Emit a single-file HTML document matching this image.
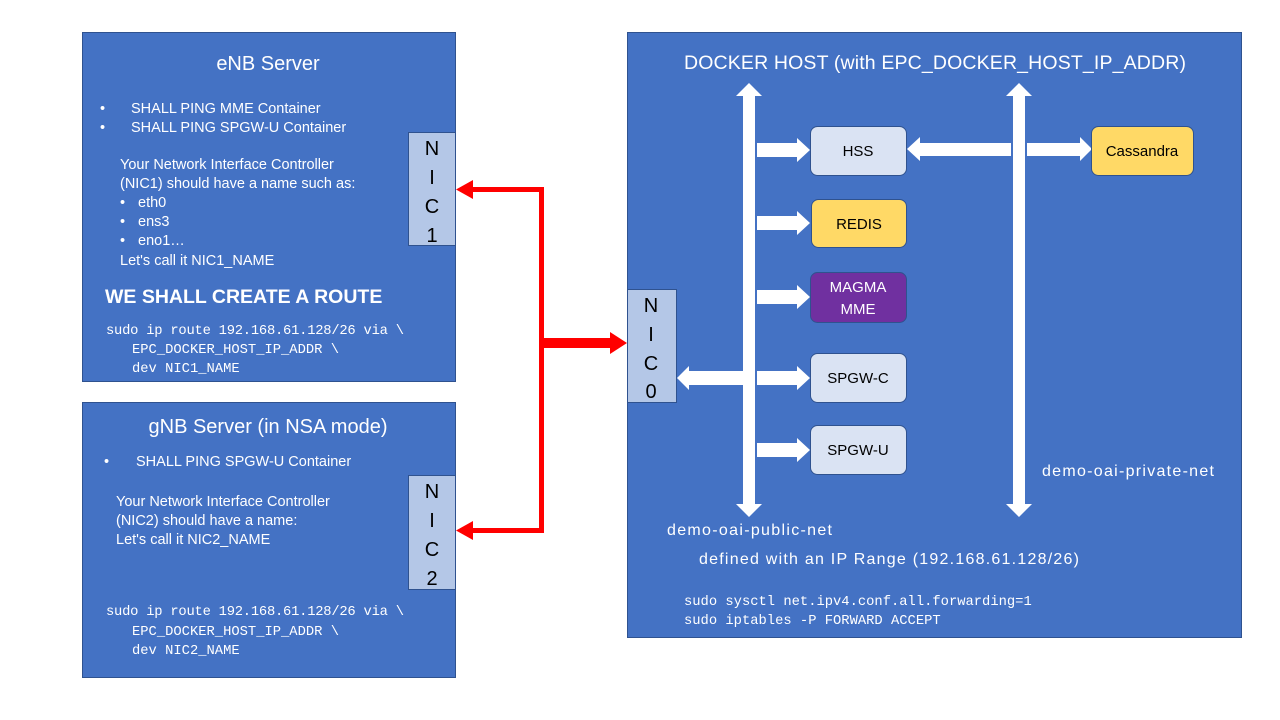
<!DOCTYPE html>
<html><head><meta charset="utf-8"><style>
html,body{margin:0;padding:0;background:#fff;}
svg{display:block;}
.t{font-family:"Liberation Sans",Arial,sans-serif;fill:#fff;}
.m{font-family:"Liberation Mono",monospace;fill:#fff;font-size:13.8px;}
.k{font-family:"Liberation Sans",Arial,sans-serif;fill:#000;}
</style></head><body>
<svg width="1280" height="720" viewBox="0 0 1280 720" xmlns="http://www.w3.org/2000/svg">
<defs>
<g id="ra"><polygon points="0,-7 40,-7 40,-12 53,0 40,12 40,7 0,7" fill="#fff"/></g>
</defs>
<!-- eNB -->
<rect x="82.5" y="32.5" width="373" height="349" fill="#4472C4" stroke="#2F528F"/>
<text class="t" x="268" y="70" font-size="20" text-anchor="middle">eNB Server</text>
<text class="t" x="100" y="113" font-size="14.5">•</text>
<text class="t" x="131" y="113" font-size="14.5">SHALL PING MME Container</text>
<text class="t" x="100" y="132" font-size="14.5">•</text>
<text class="t" x="131" y="132" font-size="14.5">SHALL PING SPGW-U Container</text>
<text class="t" x="120" y="169" font-size="14.5">Your Network Interface Controller</text>
<text class="t" x="120" y="188" font-size="14.5">(NIC1) should have a name such as:</text>
<text class="t" x="120" y="207" font-size="14.5">•</text><text class="t" x="138" y="207" font-size="14.5">eth0</text>
<text class="t" x="120" y="226" font-size="14.5">•</text><text class="t" x="138" y="226" font-size="14.5">ens3</text>
<text class="t" x="120" y="245" font-size="14.5">•</text><text class="t" x="138" y="245" font-size="14.5">eno1…</text>
<text class="t" x="120" y="265" font-size="14.5">Let's call it NIC1_NAME</text>
<text class="t" x="105" y="303" font-size="19.5" font-weight="bold">WE SHALL CREATE A ROUTE</text>
<text class="m" x="106" y="334" textLength="298">sudo ip route 192.168.61.128/26 via \</text>
<text class="m" x="132" y="353">EPC_DOCKER_HOST_IP_ADDR \</text>
<text class="m" x="132" y="372">dev NIC1_NAME</text>
<rect x="408.5" y="132.5" width="47" height="113" fill="#B4C7E7" stroke="#2F528F"/>
<text class="k" x="432" y="155" font-size="20" text-anchor="middle">N</text>
<text class="k" x="432" y="184" font-size="20" text-anchor="middle">I</text>
<text class="k" x="432" y="213" font-size="20" text-anchor="middle">C</text>
<text class="k" x="432" y="242" font-size="20" text-anchor="middle">1</text>
<!-- gNB -->
<rect x="82.5" y="402.5" width="373" height="275" fill="#4472C4" stroke="#2F528F"/>
<text class="t" x="268" y="433" font-size="20" text-anchor="middle">gNB Server (in NSA mode)</text>
<text class="t" x="104" y="466" font-size="14.5">•</text>
<text class="t" x="136" y="466" font-size="14.5">SHALL PING SPGW-U Container</text>
<text class="t" x="116" y="506" font-size="14.5">Your Network Interface Controller</text>
<text class="t" x="116" y="525" font-size="14.5">(NIC2) should have a name:</text>
<text class="t" x="116" y="544" font-size="14.5">Let's call it NIC2_NAME</text>
<text class="m" x="106" y="615" textLength="298">sudo ip route 192.168.61.128/26 via \</text>
<text class="m" x="132" y="635">EPC_DOCKER_HOST_IP_ADDR \</text>
<text class="m" x="132" y="654">dev NIC2_NAME</text>
<rect x="408.5" y="475.5" width="47" height="114" fill="#B4C7E7" stroke="#2F528F"/>
<text class="k" x="432" y="498" font-size="20" text-anchor="middle">N</text>
<text class="k" x="432" y="527" font-size="20" text-anchor="middle">I</text>
<text class="k" x="432" y="556" font-size="20" text-anchor="middle">C</text>
<text class="k" x="432" y="585" font-size="20" text-anchor="middle">2</text>
<!-- red connectors -->
<rect x="539" y="187" width="5" height="346" fill="#f00"/>
<rect x="470" y="187" width="74" height="5" fill="#f00"/>
<polygon points="456,189.5 473,180 473,199" fill="#f00"/>
<rect x="470" y="528" width="74" height="5" fill="#f00"/>
<polygon points="456,530.5 473,521 473,540" fill="#f00"/>
<rect x="541" y="338" width="72" height="10" fill="#f00"/>
<polygon points="627,343 610,332 610,354" fill="#f00"/>
<!-- Docker host -->
<rect x="627.5" y="32.5" width="614" height="605" fill="#4472C4" stroke="#2F528F"/>
<text class="t" x="935" y="69" font-size="19.5" text-anchor="middle" textLength="502">DOCKER HOST (with EPC_DOCKER_HOST_IP_ADDR)</text>
<rect x="627.5" y="289.5" width="49" height="113" fill="#B4C7E7" stroke="#2F528F"/>
<text class="k" x="651" y="312" font-size="20" text-anchor="middle">N</text>
<text class="k" x="651" y="341" font-size="20" text-anchor="middle">I</text>
<text class="k" x="651" y="370" font-size="20" text-anchor="middle">C</text>
<text class="k" x="651" y="398" font-size="20" text-anchor="middle">0</text>
<!-- vertical buses -->
<polygon points="749,83 762,96 755,96 755,504 762,504 749,517 736,504 743,504 743,96 736,96" fill="#fff"/>
<polygon points="1019,83 1032,96 1025,96 1025,504 1032,504 1019,517 1006,504 1013,504 1013,96 1006,96" fill="#fff"/>
<!-- horizontal arrows -->
<use href="#ra" x="757" y="150"/>
<use href="#ra" x="757" y="223"/>
<use href="#ra" x="757" y="297"/>
<use href="#ra" x="757" y="378"/>
<use href="#ra" x="757" y="450"/>
<polygon points="677,378 689,366 689,371 743,371 743,385 689,385 689,390" fill="#fff"/>
<polygon points="907,149 920,137 920,143 1011,143 1011,156 920,156 920,161" fill="#fff"/>
<polygon points="1027,143 1080,143 1080,137 1092,149 1080,161 1080,156 1027,156" fill="#fff"/>
<!-- nodes -->
<rect x="810.5" y="126.5" width="96" height="49" rx="7" fill="#DAE3F3" stroke="#2F528F"/>
<text class="k" x="858" y="156" font-size="15" text-anchor="middle">HSS</text>
<rect x="811.5" y="199.5" width="95" height="48" rx="7" fill="#FFD966" stroke="#2F528F"/>
<text class="k" x="859" y="229" font-size="15" text-anchor="middle">REDIS</text>
<rect x="810.5" y="272.5" width="96" height="50" rx="7" fill="#7030A0" stroke="#2F528F"/>
<text class="t" x="858" y="292" font-size="15" text-anchor="middle">MAGMA</text>
<text class="t" x="858" y="314" font-size="15" text-anchor="middle">MME</text>
<rect x="810.5" y="353.5" width="96" height="49" rx="7" fill="#DAE3F3" stroke="#2F528F"/>
<text class="k" x="858" y="383" font-size="15" text-anchor="middle">SPGW-C</text>
<rect x="810.5" y="425.5" width="96" height="49" rx="7" fill="#DAE3F3" stroke="#2F528F"/>
<text class="k" x="858" y="455" font-size="15" text-anchor="middle">SPGW-U</text>
<rect x="1091.5" y="126.5" width="102" height="49" rx="7" fill="#FFD966" stroke="#2F528F"/>
<text class="k" x="1142" y="156" font-size="15" text-anchor="middle">Cassandra</text>
<!-- labels -->
<text class="t" x="1042" y="476" font-size="16" textLength="172">demo-oai-private-net</text>
<text class="t" x="667" y="535" font-size="16" textLength="165">demo-oai-public-net</text>
<text class="t" x="699" y="564" font-size="16" textLength="380">defined with an IP Range (192.168.61.128/26)</text>
<text class="m" x="684" y="605">sudo sysctl net.ipv4.conf.all.forwarding=1</text>
<text class="m" x="684" y="624">sudo iptables -P FORWARD ACCEPT</text>
</svg>
</body></html>
